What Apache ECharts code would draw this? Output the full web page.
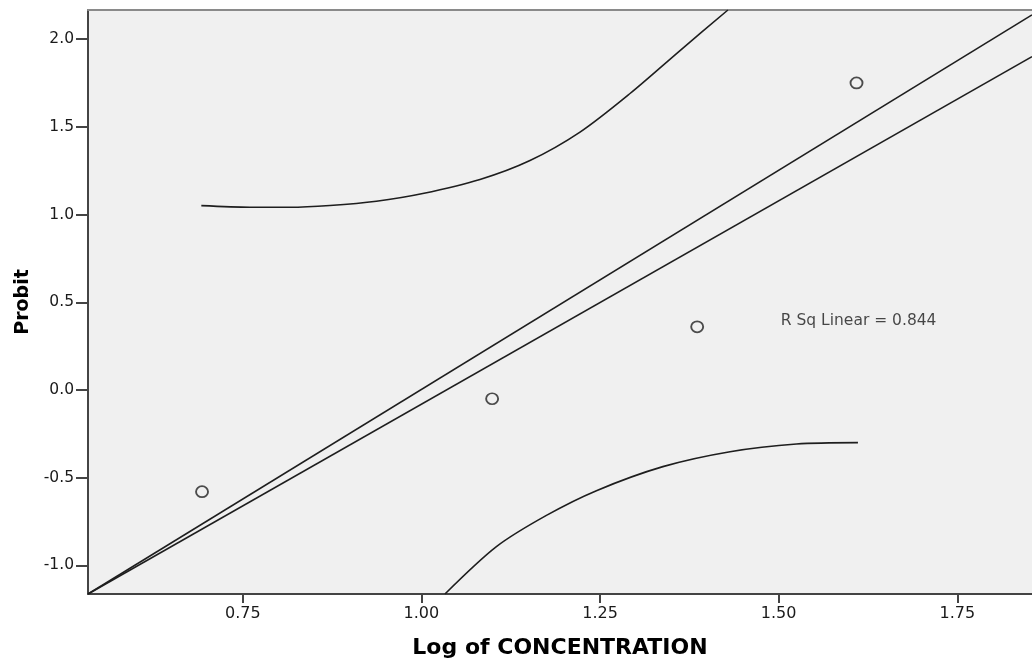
<!DOCTYPE html>
<html>
<head>
<meta charset="utf-8">
<script src="https://cdn.jsdelivr.net/npm/echarts@6/dist/echarts.min.js"></script>
<style>
html,body{margin:0;padding:0;background:#fff;}
#chart{width:1032px;height:664px;}
</style>
</head>
<body>
<div id="chart"></div>
<script>
// Observed data: log of concentration vs probit
const logConc = [0.693, 1.099, 1.386, 1.609];
const probit = [-0.58, -0.05, 0.36, 1.75];

// Fit line (R Sq Linear) and second straight line, end points
const fitLine = [[0.5334, -1.163], [1.8546, 1.90]];
const upperLine = [[0.5334, -1.163], [1.8546, 2.138]];

// Curved bands
const upperCurve = [
  [0.692, 1.051], [0.760, 1.042], [0.816, 1.042], [0.872, 1.052], [0.937, 1.076],
  [1.002, 1.120], [1.082, 1.200], [1.152, 1.308], [1.222, 1.470], [1.292, 1.690],
  [1.362, 1.935], [1.429, 2.166]
];
const lowerCurve = [
  [1.033, -1.163], [1.105, -0.893], [1.175, -0.715], [1.245, -0.574], [1.338, -0.437],
  [1.432, -0.352], [1.525, -0.308], [1.611, -0.300]
];

const xTicks = [0.75, 1.00, 1.25, 1.50, 1.75];
const yTicks = [-1.0, -0.5, 0.0, 0.5, 1.0, 1.5, 2.0];
const annotation = { x: 1.503, y: 0.395, text: 'R Sq Linear = 0.844' };

const FONT = 'DejaVu Sans';
const chart = echarts.init(document.getElementById('chart'), null, { renderer: 'canvas' });

const lineStyle = { color: '#1e1e1e', width: 1.6 };

chart.setOption({
  animation: false,
  backgroundColor: '#ffffff',
  grid: {
    left: 88, top: 10, right: 0, bottom: 70,
    show: true, backgroundColor: '#f0f0f0', borderWidth: 0
  },
  xAxis: [{
    type: 'value',
    min: 0.5334, max: 1.8546,
    name: 'Log of CONCENTRATION',
    nameLocation: 'middle',
    nameGap: 43,
    nameTextStyle: { fontFamily: FONT, fontWeight: 'bold', fontSize: 22, color: '#000' },
    axisLine: { show: true, onZero: false, lineStyle: { color: '#444', width: 2 } },
    axisTick: { show: true, customValues: xTicks, length: 9, lineStyle: { color: '#444', width: 2 } },
    axisLabel: {
      customValues: xTicks, margin: 12, fontFamily: FONT, fontSize: 16, color: '#1a1a1a',
      formatter: v => v.toFixed(2)
    },
    splitLine: { show: false }
  }, {
    type: 'value',
    position: 'top',
    min: 0.5334, max: 1.8546,
    axisLine: { show: true, onZero: false, lineStyle: { color: '#8a8a8a', width: 2 } },
    axisTick: { show: false },
    axisLabel: { show: false },
    splitLine: { show: false }
  }],
  yAxis: {
    type: 'value',
    min: -1.163, max: 2.166,
    name: 'Probit',
    nameLocation: 'middle',
    nameGap: 54,
    nameTextStyle: { fontFamily: FONT, fontWeight: 'bold', fontSize: 19, color: '#000' },
    axisLine: { show: true, onZero: false, lineStyle: { color: '#444', width: 2 } },
    axisTick: { show: true, customValues: yTicks, length: 12, lineStyle: { color: '#444', width: 2 } },
    axisLabel: {
      customValues: yTicks, margin: 14, fontFamily: FONT, fontSize: 15.5, color: '#1a1a1a',
      formatter: v => v.toFixed(1)
    },
    splitLine: { show: false }
  },
  series: [
    {
      type: 'line', data: fitLine, showSymbol: false, symbol: 'none',
      lineStyle: lineStyle, clip: true, silent: true
    },
    {
      type: 'line', data: upperLine, showSymbol: false, symbol: 'none',
      lineStyle: lineStyle, clip: true, silent: true
    },
    {
      type: 'line', data: upperCurve, showSymbol: false, symbol: 'none',
      smooth: 0.3,
      lineStyle: lineStyle, clip: true, silent: true
    },
    {
      type: 'line', data: lowerCurve, showSymbol: false, symbol: 'none',
      smooth: 0.3,
      lineStyle: lineStyle, clip: true, silent: true
    },
    {
      type: 'scatter',
      data: logConc.map((x, i) => [x, probit[i]]),
      symbol: 'circle', symbolSize: [12, 11],
      itemStyle: { color: 'rgba(0,0,0,0)', borderColor: '#222', borderWidth: 1.8 }
    },
    {
      type: 'scatter',
      data: [[annotation.x, annotation.y]],
      symbolSize: 0,
      silent: true,
      label: {
        show: true, position: 'right', distance: 0,
        formatter: annotation.text,
        fontFamily: FONT, fontSize: 15.5, color: '#1a1a1a'
      }
    }
  ]
});
</script>
</body>
</html>
